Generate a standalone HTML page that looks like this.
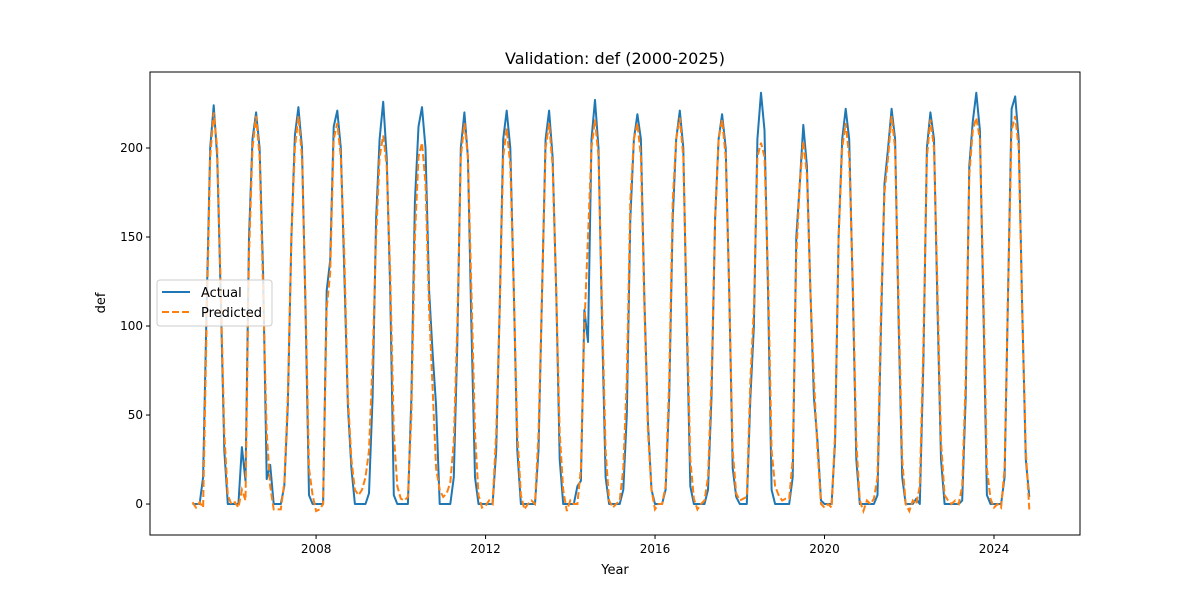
<!DOCTYPE html>
<html><head><meta charset="utf-8"><style>
body{margin:0;background:#fff;}
svg text{font-family:"DejaVu Sans","Liberation Sans",sans-serif;}
</style></head><body>
<svg id="chart" width="1200" height="600" viewBox="0 0 1200 600" xmlns="http://www.w3.org/2000/svg">
<rect width="1200" height="600" fill="#fff"/>
<text x="615" y="64" text-anchor="middle" font-size="16">Validation: def (2000-2025)</text>
<g id="plot"></g>
<text x="615" y="574" text-anchor="middle" font-size="13">Year</text>
<text transform="translate(105,303) rotate(-90)" text-anchor="middle" font-size="13">def</text>
<g>
<rect x="157" y="280" width="115" height="46" rx="3" fill="#fff" fill-opacity="0.8" stroke="#ccc"/>
<line x1="162" y1="292" x2="190" y2="292" stroke="#1f77b4" stroke-width="2"/>
<text x="201" y="297" font-size="13">Actual</text>
<line x1="162" y1="312" x2="190" y2="312" stroke="#ff7f0e" stroke-width="2" stroke-dasharray="7,3"/>
<text x="201" y="317" font-size="13">Predicted</text>
</g>
</svg>
<script>
const startYear = 2005 + 1/12;
const actual = [
0,0,
0,15,110,200,224,195,115,30,0,0,0,0,
32,13,150,205,220,200,130,14,22,0,0,0,
10,55,150,207,223,200,110,5,0,0,0,0,
120,137,212,221,200,130,55,20,0,0,0,0,
6,60,160,205,226,195,120,5,0,0,0,0,
60,170,212,223,200,120,85,55,0,0,0,0,
15,90,200,220,195,100,15,0,0,0,0,0,
30,110,205,221,200,120,30,0,0,0,0,0,
30,120,205,221,195,120,25,0,0,0,0,10,
13,109,91,205,227,200,100,15,0,0,0,0,
8,50,160,205,219,205,115,45,8,0,0,0,
8,60,160,205,221,200,100,10,0,0,0,0,
8,60,160,205,219,200,120,20,4,0,0,0,
60,100,205,231,210,120,8,0,0,0,0,0,
15,150,180,213,190,120,60,35,2,0,0,0,
35,150,205,222,205,120,25,0,0,0,0,0,
5,100,180,200,222,205,100,15,0,0,0,3,
0,80,200,220,205,110,25,0,0,0,0,0,
2,60,190,215,231,210,110,5,0,0,0,0,
15,120,222,229,205,110,25,4
];
const predicted = [
1,-2,
1,-2,100,195,220,200,120,40,5,0,1,-2,
8,2,140,200,218,195,120,40,10,-3,-3,-3,
12,60,150,200,218,195,115,20,5,-4,-3,0,
110,130,205,214,195,140,60,25,8,5,8,15,
30,80,150,195,207,190,130,40,10,3,2,4,
50,150,195,203,180,110,65,20,8,4,6,12,
35,100,195,214,195,120,40,5,-2,-1,2,0,
40,110,195,211,190,120,40,5,-3,0,2,0,
40,120,200,214,190,120,40,8,-4,2,0,0,
20,100,150,200,216,195,110,30,2,-2,0,2,
20,70,170,205,214,195,110,40,8,-3,0,0,
10,70,170,205,217,195,110,25,3,-3,0,2,
15,70,160,205,216,195,120,30,6,2,3,4,
70,110,195,203,195,130,30,10,5,2,3,3,
25,140,180,204,185,120,70,30,0,-2,0,-2,
40,150,200,214,195,125,35,2,-4,2,0,3,
15,110,175,195,218,200,110,25,0,-4,2,0,
10,90,195,216,200,120,35,5,2,0,2,0,
10,70,185,210,217,205,120,20,3,-2,0,-2,
20,120,210,218,200,110,30,-3
];
const xTicks = [2008, 2012, 2016, 2020, 2024];
const yTicks = [0, 50, 100, 150, 200];

const L=150,R=1080,T=72,B=535;
const xMin=2004.08,xMax=2026.03,yMin=-17.4,yMax=242.7;
const xS=v=>L+(v-xMin)/(xMax-xMin)*(R-L);
const yS=v=>B-(v-yMin)/(yMax-yMin)*(B-T);
const NS='http://www.w3.org/2000/svg';
const plot=document.getElementById('plot');
function mk(tag,attrs){const e=document.createElementNS(NS,tag);for(const k in attrs)e.setAttribute(k,attrs[k]);plot.appendChild(e);return e;}

function pts(arr){return arr.map((v,i)=>xS(startYear+i/12).toFixed(1)+','+yS(v).toFixed(1)).join(' ');}
const la=mk('polyline',{points:pts(actual),fill:'none',stroke:'#1f77b4','stroke-width':2,'stroke-linejoin':'round'});


const lp=mk('polyline',{points:pts(predicted),fill:'none',stroke:'#ff7f0e','stroke-width':2,'stroke-dasharray':'7,3'});



const frame=mk('rect',{x:L,y:T,width:R-L,height:B-T,fill:'none',stroke:'#000','stroke-width':1});



xTicks.forEach(t=>{
  const x=xS(t);
  const tk=mk('line',{x1:x,y1:B,x2:x,y2:B+4,stroke:'#000'});
  
  
  const tx=mk('text',{x:x,y:B+18,'text-anchor':'middle','font-size':12});
  tx.textContent=t;
  
  
});
yTicks.forEach(t=>{
  const y=yS(t);
  const tk=mk('line',{x1:L-4,y1:y,x2:L,y2:y,stroke:'#000'});
  
  
  const tx=mk('text',{x:L-7,y:y+4,'text-anchor':'end','font-size':12});
  tx.textContent=t;
  
  
});
</script>
</body></html>
